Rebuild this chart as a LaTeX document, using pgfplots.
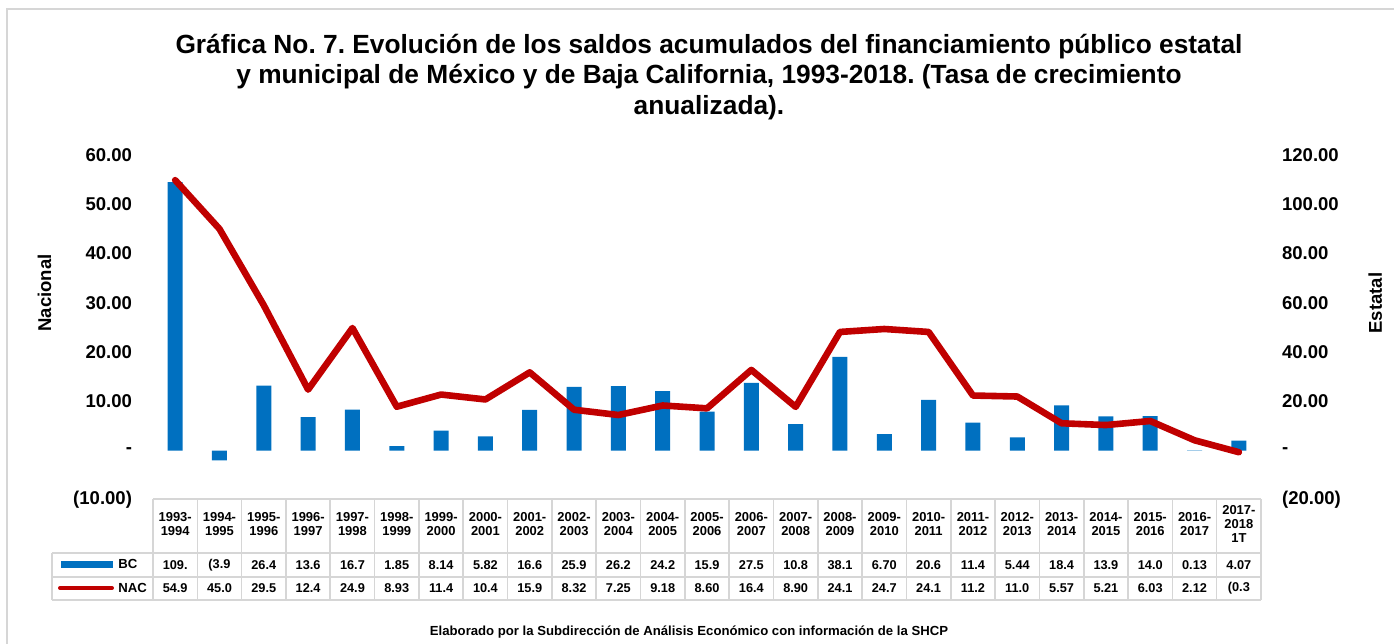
\documentclass[border=0pt]{standalone}
\usepackage{fontspec}
\setmainfont{Liberation Sans}
\usepackage{pgfplots}
\usepackage{pgfplotstable}
\pgfplotsset{compat=1.18}
\frenchspacing

\definecolor{bcblue}{HTML}{0070C0}
\definecolor{nacred}{HTML}{C00000}
\definecolor{tabgray}{HTML}{D6D6D6}

% BC: Estatal (eje derecho), NAC: Nacional (eje izquierdo)
\pgfplotstableread{
x  bc     nac    bclbl  naclbl
0  109.0  54.9   109.   54.9
1  -3.9   45.0   (3.9   45.0
2  26.4   29.5   26.4   29.5
3  13.6   12.4   13.6   12.4
4  16.7   24.9   16.7   24.9
5  1.85   8.93   1.85   8.93
6  8.14   11.4   8.14   11.4
7  5.82   10.4   5.82   10.4
8  16.6   15.9   16.6   15.9
9  25.9   8.32   25.9   8.32
10 26.2   7.25   26.2   7.25
11 24.2   9.18   24.2   9.18
12 15.9   8.60   15.9   8.60
13 27.5   16.4   27.5   16.4
14 10.8   8.90   10.8   8.90
15 38.1   24.1   38.1   24.1
16 6.70   24.7   6.70   24.7
17 20.6   24.1   20.6   24.1
18 11.4   11.2   11.4   11.2
19 5.44   11.0   5.44   11.0
20 18.4   5.57   18.4   5.57
21 13.9   5.21   13.9   5.21
22 14.0   6.03   14.0   6.03
23 0.13   2.12   0.13   2.12
24 4.07   -0.3   4.07   (0.3
}\datos

\pgfplotsset{
    base/.style={
        scale only axis,
        width=554bp, height=172.5bp,
        at={(76.5bp,-250bp)}, anchor=south west,
        xmin=-0.5, xmax=24.5,
        axis line style={draw=none},
        major tick length=0pt,
        clip=false,
        yticklabel style={font=\bfseries\fontsize{9.3}{11}\selectfont},
        ylabel style={font=\bfseries\fontsize{9.3}{11}\selectfont, anchor=center},
    },
    fila/.style={
        draw=none, mark=none,
        nodes near coords,
        point meta=explicit symbolic,
        every node near coord/.append style={anchor=center,
            font=\bfseries\fontsize{6.4}{7.5}\selectfont},
    },
}

\begin{document}
\begin{tikzpicture}
\begin{scope}[x=0.5bp, y=-0.5bp]
\path[use as bounding box] (0,0) rectangle (1394,644);
\draw[tabgray, line width=1bp] (7,700) -- (7,9) -- (1420,9);
\node[align=center, font=\bfseries\fontsize{13.2}{15.5}\selectfont] at (709,77)
    {Gráfica No. 7. Evolución de los saldos acumulados del financiamiento público estatal\\
     y municipal de México y de Baja California, 1993-2018. (Tasa de crecimiento\\
     anualizada).};
\node[font=\bfseries\fontsize{6.6}{7}\selectfont] at (689,632)
    {Elaborado por la Subdirección de Análisis Económico con información de la SHCP};
% cuadricula de la tabla de datos
\draw[tabgray, line width=0.8bp] (153,499) -- (1261,499);
\draw[tabgray, line width=0.8bp] (52,553) -- (1261,553);
\draw[tabgray, line width=0.8bp] (52,577) -- (1261,577);
\draw[tabgray, line width=0.8bp] (52,600) -- (1261,600);
\draw[tabgray, line width=0.8bp] (52,553) -- (52,600);
\foreach \k in {0,...,25} {
    \draw[tabgray, line width=0.8bp] ({153+44.32*\k},499) -- ({153+44.32*\k},600);
}
% claves de la leyenda
\draw[bcblue, line width=3.5bp] (61,564) -- (113,564);
\node[anchor=west, font=\bfseries\fontsize{6.6}{8}\selectfont, inner sep=0pt] at (118,564) {BC};
\draw[nacred, line width=2bp, line cap=round] (60,588) -- (112,588);
\node[anchor=west, font=\bfseries\fontsize{6.6}{8}\selectfont, inner sep=0pt] at (118,588) {NAC};
\end{scope}

% eje derecho: Estatal (barras BC)
\begin{axis}[
    base,
    ymin=-20, ymax=120,
    ytick={-20,0,20,40,60,80,100,120},
    yticklabels={(20.00),-,20.00,40.00,60.00,80.00,100.00,120.00},
    yticklabel pos=right,
    yticklabel style={xshift=7bp},
    xtick=\empty,
    ylabel={Estatal},
    ylabel style={at={(rel axis cs:1.103,0.571)}},
]
\addplot[ybar, bar width=7.5bp, fill=bcblue, draw=none] table[x=x, y=bc] {\datos};
\end{axis}

% eje izquierdo: Nacional (linea NAC) y tabla
\begin{axis}[
    base,
    ymin=-10, ymax=60,
    ytick={-10,0,10,20,30,40,50,60},
    yticklabels={(10.00),-,10.00,20.00,30.00,40.00,50.00,60.00},
    yticklabel style={xshift=-7bp},
    xtick={0,...,24},
    xticklabels={{1993-\\1994},{1994-\\1995},{1995-\\1996},{1996-\\1997},{1997-\\1998},
        {1998-\\1999},{1999-\\2000},{2000-\\2001},{2001-\\2002},{2002-\\2003},
        {2003-\\2004},{2004-\\2005},{2005-\\2006},{2006-\\2007},{2007-\\2008},
        {2008-\\2009},{2009-\\2010},{2010-\\2011},{2011-\\2012},{2012-\\2013},
        {2013-\\2014},{2014-\\2015},{2015-\\2016},{2016-\\2017},{2017-\\2018\\1T}},
    xticklabel style={align=center, anchor=center, yshift=-12bp,
        font=\bfseries\fontsize{6.5}{7.2}\selectfont},
    ylabel={Nacional},
    ylabel style={at={(rel axis cs:-0.098,0.6)}},
]
\addplot[nacred, line width=3.3bp, line join=round, line cap=round] table[x=x, y=nac] {\datos};
\addplot[fila] table[x=x, y expr=-23.19, meta=bclbl] {\datos};
\addplot[fila] table[x=x, y expr=-27.96, meta=naclbl] {\datos};
\end{axis}
\end{tikzpicture}
\end{document}
